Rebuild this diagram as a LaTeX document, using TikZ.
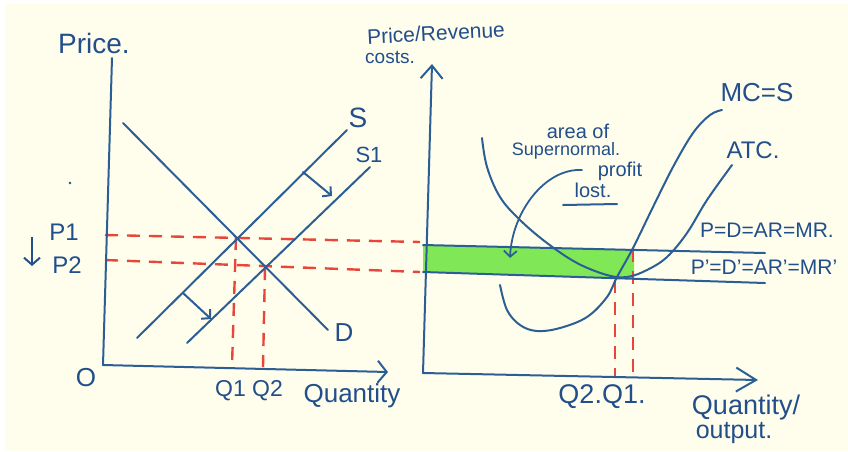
\documentclass[tikz,border=0pt]{standalone}
\usepackage{fontspec}
\setmainfont{Liberation Sans}
\usetikzlibrary{arrows.meta}
\definecolor{pen}{RGB}{44,94,150}
\definecolor{ink}{RGB}{34,78,140}
\definecolor{redpen}{RGB}{232,70,58}
\definecolor{hl}{RGB}{128,232,86}
\definecolor{paper}{RGB}{255,254,236}
\tikzset{
  curve/.style={pen, line width=2pt, line cap=round, line join=round},
  guide/.style={redpen, line width=2.4pt, dash pattern=on 13pt off 9pt},
  lbl/.style={text=ink, inner sep=0pt, font=\fontsize{#1}{#1}\selectfont},
  lbl/.default=20,
  axisbarb/.style={-{Straight Barb[length=9pt,width=22pt]}},
  shiftbarb/.style={-{Straight Barb[length=6pt,width=13pt]}},
}
\begin{document}
\begin{tikzpicture}[x=1pt,y=-1pt]
\fill[paper] (0,0) rectangle (848,451);
\fill[white] (0,0) rectangle (848,4);
\fill[white] (0,0) rectangle (5,451);
\useasboundingbox (0,0) rectangle (848,451);

% ---------------- left graph ----------------
\coordinate (LYtop) at (112,58);
\coordinate (LO) at (103,365);
\coordinate (LXend) at (388,372);
\coordinate (Da) at (123,123);
\coordinate (Db) at (328,330);
\coordinate (Sa) at (137,338);
\coordinate (Sb) at (347,130);
\coordinate (Ta) at (187,343);
\coordinate (Tb) at (370,167);
\coordinate (E1) at (236,237);
\coordinate (E2) at (265,267);
\coordinate (P1l) at (105,235);
\coordinate (P1r) at (420,242);
\coordinate (P2l) at (105,260);
\coordinate (P2r) at (420,272);
\coordinate (Q1b) at (232,366);
\coordinate (Q2b) at (263,367);
\coordinate (A1s) at (303,172);
\coordinate (A1e) at (332,196);
\coordinate (A2s) at (183,293);
\coordinate (A2e) at (211,319);
\coordinate (DAs) at (32,237);
\coordinate (DAe) at (32,266);

\draw[guide] (P1l) -- (P1r);
\draw[guide] (P2l) -- (P2r);
\draw[guide] (E1) -- (Q1b);
\draw[guide] (E2) -- (Q2b);

\draw[curve, axisbarb] (LYtop) -- (LO) -- (LXend);
\draw[curve] (Da) -- (Db);
\draw[curve] (Sa) -- (Sb);
\draw[curve] (Ta) -- (Tb);
\draw[curve, shiftbarb] (A1s) -- (A1e);
\draw[curve, shiftbarb] (A2s) -- (A2e);
\draw[ink, line width=2pt, -{Straight Barb[length=7pt,width=16pt]}] (DAs) -- (DAe);
\fill[ink] (70,183) circle (1.3);

\node[lbl=28] (price) at (94,43) {Price.};
\node[lbl=26] (zero) at (86,378) {O};
\node[lbl=24] (p1) at (64,232) {P1};
\node[lbl=24] (p2) at (67,265) {P2};
\node[lbl=28] (lS) at (358,118) {S};
\node[lbl=22] (lS1) at (369,155) {S1};
\node[lbl=26] (lD) at (344,333) {D};
\node[lbl=23] (q12) at (249,391) {Q1 Q2};
\node[lbl=26] (qty) at (352,396) {Quantity};

% ---------------- right graph ----------------
\coordinate (RYtop) at (432,64);
\coordinate (RO) at (423,373);
\coordinate (RXend) at (758,380);
\coordinate (PLa) at (423,245);
\coordinate (PLb) at (765,253);
\coordinate (PPa) at (423,272);
\coordinate (PPb) at (765,283);
\coordinate (G1) at (634,250);
\coordinate (G2) at (634,279);
\coordinate (RQ1t) at (633,249);
\coordinate (RQ1b) at (633,376);
\coordinate (RQ2t) at (615,280);
\coordinate (RQ2b) at (615,376);
\coordinate (ARs) at (582,170);
\coordinate (ARe) at (510,258);
\coordinate (ULa) at (563,205);
\coordinate (ULb) at (617,204);

\fill[hl] (PLa) -- (G1) -- (G2) -- (PPa) -- cycle;
\draw[guide] (RQ1t) -- (RQ1b);
\draw[guide] (RQ2t) -- (RQ2b);
\draw[curve, {Straight Barb[length=13pt,width=22pt]}-{Straight Barb[length=20pt,width=24pt]}] (RYtop) -- (RO) -- (RXend);
\draw[curve] (PLa) -- (PLb);
\draw[curve] (PPa) -- (PPb);

% ATC
\draw[curve] plot[smooth, tension=0.6] coordinates {
  (482,138) (487,167) (500,197) (520,220) (547,243) (577,263)
  (607,275) (627,277) (647,270) (667,257) (687,233) (707,200) (732,165)};
% MC
\draw[curve] plot[smooth, tension=0.6] coordinates {
  (500,285) (507,310) (520,325) (537,331) (560,328) (587,317)
  (607,297) (617,277) (633,248) (653,207) (673,167) (693,133) (710,115) (722,110)};

\draw[curve, line width=1.8pt, shiftbarb] (ARs) .. controls (545,168) and (512,212) .. (ARe);
\draw[curve] (ULa) -- (ULb);

\node[lbl=21, rotate=3] (prl) at (436,33) {Price/Revenue};
\node[lbl=19] (costs) at (390,57) {costs.};
\node[lbl=26] (mcs) at (757,93) {MC=S};
\node[lbl=24] (atc) at (753,150) {ATC.};
\node[lbl=21] (pd) at (767,230) {P=D=AR=MR.};
\node[lbl=21] (ppd) at (764,267) {P'=D'=AR'=MR'};
\node[lbl=27] (q21) at (602,397) {Q2.Q1.};
\node[lbl=27] (qty2) at (746,408) {Quantity/};
\node[lbl=25] (outp) at (734,433) {output.};
\node[lbl=20] (ann1) at (578,131) {area of};
\node[lbl=18] (ann2) at (566,151) {Supernormal.};
\node[lbl=20] (ann3) at (620,171) {profit};
\node[lbl=20] (ann4) at (593,190) {lost.};
\end{tikzpicture}
\end{document}
